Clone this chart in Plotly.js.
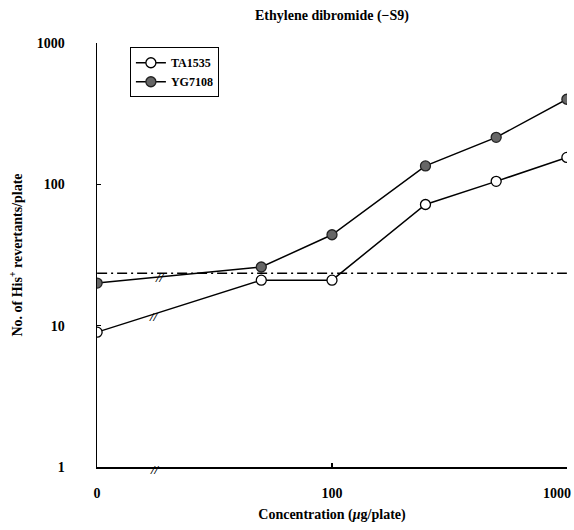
<!DOCTYPE html>
<html>
<head>
<meta charset="utf-8">
<script src="https://cdn.plot.ly/plotly-3.0.1.min.js"></script>
<style>html,body{margin:0;padding:0;background:#fff;}#chart{width:574px;height:530px;}</style>
</head>
<body>
<div id="chart"></div>
<script>
// Doses (µg/plate); the 0 dose is drawn at the left end of the broken log axis
const doses = [0, 50, 100, 250, 500, 1000];
const zeroDosePosition = 10;
const ta1535 = [9, 21, 21, 72, 105, 155];
const yg7108 = [20, 26, 44, 135, 215, 400];
const refLevel = 23.5;
const xTickVals = [10, 100];
const xTickText = ['0', '100'];
const xEndTick = 1000;
const xEndTickText = '1000';
const yTickVals = [1, 10, 100, 1000];
const yTickText = ['1', '10', '100', '1000'];

const xPlot = doses.map(d => d === 0 ? zeroDosePosition : d);
const serif = 'Liberation Serif, Times New Roman, serif';

const traces = [
  {
    x: xPlot, y: ta1535, name: 'TA1535', type: 'scatter', mode: 'lines+markers',
    line: {color: '#000', width: 1.5},
    marker: {symbol: 'circle', size: 10, color: '#fff', line: {color: '#000', width: 1.3}}
  },
  {
    x: xPlot, y: yg7108, name: 'YG7108', type: 'scatter', mode: 'lines+markers',
    line: {color: '#000', width: 1.5},
    marker: {symbol: 'circle', size: 10, color: '#666', line: {color: '#222', width: 1.3}}
  },
  {
    x: [zeroDosePosition, xEndTick], y: [refLevel, refLevel],
    type: 'scatter', mode: 'lines', showlegend: false, hoverinfo: 'skip',
    line: {color: '#000', width: 1.5, dash: '10px,4px,2px,4px'}
  }
];

const layout = {
  width: 574, height: 530,
  margin: {l: 97, r: 7, t: 43, b: 63},
  paper_bgcolor: '#fff', plot_bgcolor: '#fff',
  font: {family: serif, color: '#000', size: 14, weight: 700},
  title: {
    text: 'Ethylene dibromide (−S9)',
    font: {family: serif, size: 14, weight: 700, color: '#000'},
    x: 0.5, xref: 'paper', xanchor: 'center', y: 0.972, yanchor: 'middle'
  },
  xaxis: {
    type: 'log', range: [0.9995, 3.0005],
    tickvals: xTickVals, ticktext: xTickText,
    ticks: 'inside', ticklen: 4, tickwidth: 1.2, tickcolor: '#000',
    minor: {tickvals: [xEndTick], ticks: 'inside', ticklen: 4, tickwidth: 1.2, tickcolor: '#000', showgrid: false},
    showline: true, linecolor: '#000', linewidth: 1.5,
    showgrid: false, zeroline: false,
    ticklabelstandoff: 13,
    tickfont: {family: serif, size: 14, weight: 700},
    title: {text: 'Concentration (<i>μ</i>g/plate)', standoff: 9,
            font: {family: serif, size: 14, weight: 700}}
  },
  yaxis: {
    type: 'log', range: [0, 3],
    tickvals: yTickVals, ticktext: yTickText,
    ticks: 'inside', ticklen: 4, tickwidth: 1.2, tickcolor: '#000',
    showline: true, linecolor: '#000', linewidth: 1.5,
    showgrid: false, zeroline: false,
    ticklabelstandoff: 28, ticklabeloverflow: 'allow',
    tickfont: {family: serif, size: 14, weight: 700},
    title: {text: 'No. of His<sup>+</sup> revertants/plate', standoff: 11,
            font: {family: serif, size: 14, weight: 700}}
  },
  legend: {
    x: 0.07, y: 0.99, xanchor: 'left', yanchor: 'top',
    bgcolor: '#fff', bordercolor: '#000', borderwidth: 1,
    font: {family: serif, size: 12, weight: 700},
    itemwidth: 30, tracegroupgap: 0
  },
  showlegend: true,
  annotations: [
    {xref: 'x', yref: 'paper', x: Math.log10(xEndTick), y: 0, xanchor: 'right', yanchor: 'middle',
     xshift: 5, yshift: -26, text: xEndTickText, showarrow: false, borderpad: 0,
     font: {family: serif, size: 14, weight: 700}},
    {xref: 'paper', yref: 'paper', x: 0.119, y: 0.448, text: '<i>//</i>', showarrow: false,
     font: {family: serif, size: 13, weight: 700}},
    {xref: 'paper', yref: 'paper', x: 0.106, y: 0.355, text: '<i>//</i>', showarrow: false,
     font: {family: serif, size: 13, weight: 700}},
    {xref: 'paper', yref: 'paper', x: 0.108, y: -0.028, text: '<i>//</i>', showarrow: false,
     font: {family: serif, size: 13, weight: 700}}
  ]
};

Plotly.newPlot('chart', traces, layout, {displayModeBar: false, staticPlot: true});
</script>
</body>
</html>
